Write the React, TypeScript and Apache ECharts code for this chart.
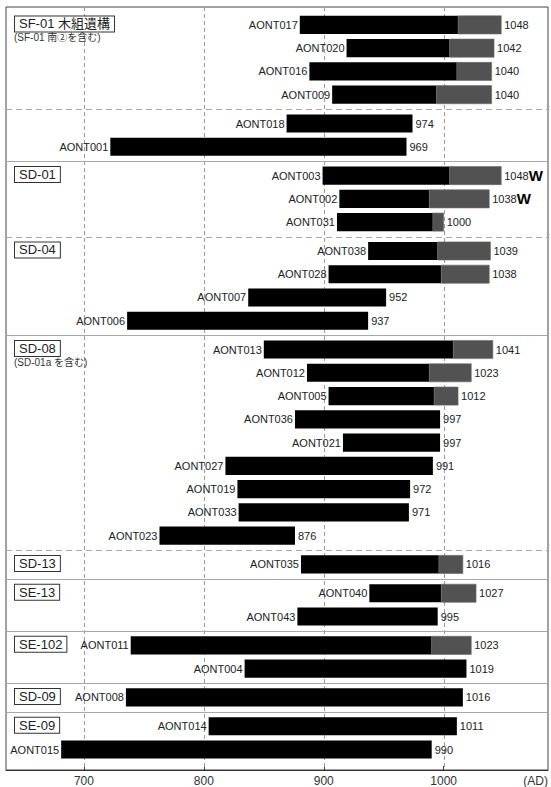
import React, { useEffect, useRef } from 'react';
import * as echarts from 'echarts';

// ---- data ----
const sampleNames = [
  'AONT017', 'AONT020', 'AONT016', 'AONT009', 'AONT018', 'AONT001',
  'AONT003', 'AONT002', 'AONT031',
  'AONT038', 'AONT028', 'AONT007', 'AONT006',
  'AONT013', 'AONT012', 'AONT005', 'AONT036', 'AONT021', 'AONT027', 'AONT019', 'AONT033', 'AONT023',
  'AONT035',
  'AONT040', 'AONT043',
  'AONT011', 'AONT004',
  'AONT008',
  'AONT014', 'AONT015',
];
const startYears = [
  880, 919, 888, 907, 869, 722,
  899, 913, 911,
  937, 904, 837, 736,
  850, 886, 904, 876, 916, 818, 828, 829, 763,
  881,
  938, 878,
  739, 834,
  735,
  804, 681,
];
// year where the grey (outer-ring) part begins; null = all black
const greyStartYears: (number | null)[] = [
  1012, 1005, 1011, 994, null, null,
  1005, 988, 991,
  995, 998, null, null,
  1008, 988, 992, null, null, null, null, null, null,
  996,
  998, null,
  990, null,
  null,
  null, null,
];
const endYears = [
  1048, 1042, 1040, 1040, 974, 969,
  1048, 1038, 1000,
  1039, 1038, 952, 937,
  1041, 1023, 1012, 997, 997, 991, 972, 971, 876,
  1016,
  1027, 995,
  1023, 1019,
  1016,
  1011, 990,
];
const wMarked = ['AONT003', 'AONT002'];

const groupNames = ['SF-01 木組遺構', 'SD-01', 'SD-04', 'SD-08', 'SD-13', 'SE-13', 'SE-102', 'SD-09', 'SE-09'];
const groupNotes = ['(SF-01 南②を含む)', '', '', '(SD-01a を含む)', '', '', '', '', ''];
const groupFirstRow = [0, 6, 9, 13, 22, 23, 25, 27, 28];
const separatorAfterRow = [3, 5, 8, 12, 21, 22, 24, 26, 27];
const separatorDashed = [true, false, true, false, true, false, false, false, false];
const tickValues = [700, 800, 900, 1000];
const xMin = 635;
const xMax = 1087;

// ---- derived positions (row index plus small separator gaps) ----
const SEP_GAP = 0.24;
const rowPos = sampleNames.map((_, i) => i + SEP_GAP * separatorAfterRow.filter((r) => r < i).length);
const sepPos = separatorAfterRow.map((r) => (rowPos[r] + rowPos[r + 1]) / 2);
const yMin = -0.77;
const yMax = rowPos[rowPos.length - 1] + 0.88;

const FONT = '"Liberation Sans", Arial, "Noto Sans CJK JP", sans-serif';

export default function App() {
  const ref = useRef<HTMLDivElement>(null);
  useEffect(() => {
    document.body.style.margin = '0';
    if (!ref.current) return;
    const chart = echarts.init(ref.current, undefined, { renderer: 'svg' });

    const barData = sampleNames.map((_, i) => [
      startYears[i],
      greyStartYears[i] ?? endYears[i],
      endYears[i],
      rowPos[i],
    ]);

    const option: any = {
      animation: false,
      grid: {
        left: 6, right: 3, top: 7, bottom: 15,
        show: true, borderColor: '#444', borderWidth: 1, backgroundColor: 'transparent',
      },
      xAxis: {
        type: 'value', min: xMin, max: xMax,
        splitLine: { show: false },
        axisLine: { show: true, onZero: false, lineStyle: { color: '#333', width: 1 } },
        axisTick: { show: true, inside: true, length: 4, customValues: tickValues, lineStyle: { color: '#333' } },
        axisLabel: {
          customValues: tickValues, margin: 5, color: '#333', fontSize: 12, fontFamily: FONT,
          formatter: (v: number) => String(v),
        },
      },
      yAxis: { type: 'value', inverse: true, min: yMin, max: yMax, show: false },
      graphic: [
        { type: 'text', right: 3, top: 775, style: { text: '(AD)', font: '12px ' + FONT, fill: '#333' } },
      ],
      series: [
        {
          type: 'custom', name: 'grid',
          data: tickValues.map((v) => [v, 0]),
          encode: { x: 0, y: 1 },
          silent: true,
          renderItem: (params: any, api: any) => {
            const cs = params.coordSys;
            const x = Math.round(api.coord([api.value(0), 0])[0]) + 0.5;
            return {
              type: 'line',
              shape: { x1: x, y1: cs.y, x2: x, y2: cs.y + cs.height },
              style: { stroke: '#999', lineWidth: 1, lineDash: [4, 3] },
            };
          },
        },
        {
          type: 'custom', name: 'separators',
          data: sepPos.map((p) => [xMin, p]),
          encode: { x: 0, y: 1 },
          silent: true,
          renderItem: (params: any, api: any) => {
            const cs = params.coordSys;
            const y = Math.round(api.coord([xMin, api.value(1)])[1]) + 0.5;
            const dashed = separatorDashed[params.dataIndex];
            return {
              type: 'line',
              shape: { x1: cs.x, y1: y, x2: cs.x + cs.width, y2: y },
              style: { stroke: '#a8a8a8', lineWidth: 1, lineDash: dashed ? [6, 4] : null },
            };
          },
        },
        {
          type: 'custom', name: 'bars',
          data: barData,
          encode: { x: [0, 1, 2], y: 3 },
          silent: true,
          renderItem: (params: any, api: any) => {
            const i = params.dataIndex;
            const pos = api.value(3);
            const a = api.coord([api.value(0), pos]);
            const b = api.coord([api.value(1), pos]);
            const e = api.coord([api.value(2), pos]);
            const h = api.size([0, 1])[1] * 0.78;
            const cy = a[1];
            const name = sampleNames[i];
            const children: any[] = [
              {
                type: 'rect',
                shape: { x: a[0], y: cy - h / 2, width: b[0] - a[0], height: h },
                style: { fill: '#000' },
              },
            ];
            if (e[0] - b[0] > 0.1) {
              children.push({
                type: 'rect',
                shape: { x: b[0], y: cy - h / 2, width: e[0] - b[0], height: h },
                style: { fill: '#525252', stroke: '#6a6a6a', lineWidth: 0.6 },
              });
            }
            children.push({
              type: 'text',
              style: {
                text: name, x: a[0] - 2, y: cy, align: 'right', verticalAlign: 'middle',
                font: '11px ' + FONT, fill: '#222',
              },
            });
            const w = wMarked.includes(name);
            children.push({
              type: 'text',
              style: {
                text: w ? `${endYears[i]}{w|W}` : `${endYears[i]}`,
                x: e[0] + 3, y: cy, align: 'left', verticalAlign: 'middle',
                font: '11px ' + FONT, fill: '#222',
                rich: { w: { font: 'bold 15px ' + FONT, fill: '#000' } },
              },
            });
            return { type: 'group', children };
          },
        },
        {
          type: 'custom', name: 'groups',
          data: groupFirstRow.map((r) => [xMin, rowPos[r]]),
          encode: { x: 0, y: 1 },
          silent: true,
          renderItem: (params: any, api: any) => {
            const i = params.dataIndex;
            const cs = params.coordSys;
            const y = api.coord([xMin, api.value(1)])[1];
            const children: any[] = [
              {
                type: 'text',
                style: {
                  text: groupNames[i], x: cs.x + 9, y: y - 1, align: 'left', verticalAlign: 'middle',
                  font: '13px ' + FONT, fill: '#222', lineHeight: 13,
                  borderColor: '#333', borderWidth: 1, padding: [1, 4, 1, 4], backgroundColor: '#fff',
                },
              },
            ];
            if (groupNotes[i]) {
              children.push({
                type: 'text',
                style: {
                  text: groupNotes[i], x: cs.x + 8, y: y + 13, align: 'left', verticalAlign: 'middle',
                  font: '10px ' + FONT, fill: '#333',
                },
              });
            }
            return { type: 'group', children };
          },
        },
      ],
    };
    chart.setOption(option);
    return () => chart.dispose();
  }, []);
  return <div ref={ref} style={{ width: 551, height: 787 }} />;
}
